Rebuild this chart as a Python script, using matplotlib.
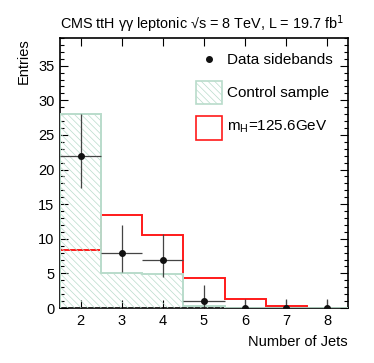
import matplotlib.pyplot as plt
import numpy as np
from matplotlib.patches import Rectangle
from matplotlib.lines import Line2D

plt.rcParams["font.family"] = ["Liberation Sans", "DejaVu Sans"]
plt.rcParams["hatch.linewidth"] = 0.5

# bin edges and centres (number of jets)
edges = np.arange(1.5, 9.0, 1.0)
njets = np.array([2, 3, 4, 5, 6, 7, 8])

# histograms
control = [28.0, 5.1, 4.85, 0.25, 0.0, 0.0, 0.0]
signal = [8.35, 13.45, 10.6, 4.3, 1.3, 0.25, 0.0]

# data sidebands with asymmetric errors
data = [22, 8, 7, 1, 0, 0, 0]
err_lo = [4.6, 2.8, 2.5, 0.83, 0, 0, 0]
err_hi = [6.0, 4.0, 3.7, 2.35, 1.25, 1.25, 1.25]

green = "#b9dccb"
fig = plt.figure(figsize=(3.74, 3.63), dpi=100)
ax = fig.add_axes([60 / 374, 1 - 308 / 363, 288 / 374, 270 / 363])

ax.stairs(signal, edges, color="#ff1a1a", linewidth=1.4, zorder=2)
ax.stairs(control, edges, fill=True, facecolor="none", edgecolor=green,
          hatch="\\\\\\\\\\", linewidth=1.4, zorder=3)
ax.errorbar(njets, data, yerr=[err_lo, err_hi], xerr=0.5, fmt="o",
            color="#111111", ecolor="#444444", markersize=4, elinewidth=0.9,
            capsize=0, zorder=4)

ax.set_xlim(1.5, 8.5)
ax.set_ylim(0, 39)
ax.set_xticks(njets)
ax.set_yticks(np.arange(0, 40, 5))
ax.set_yticks(np.arange(0, 40, 1), minor=True)
ax.tick_params(which="both", direction="in", top=True, right=True,
               labelsize=10.5, width=0.8)
ax.tick_params(which="major", length=6, pad=4)
ax.tick_params(which="minor", length=3)
ax.tick_params(axis="x", which="minor", length=0)
for s in ax.spines.values():
    s.set_linewidth(1.2)

ax.set_xlabel("Number of Jets", fontsize=10.5, loc="right", labelpad=5)
ax.set_ylabel("Entries", fontsize=10.5, loc="top", labelpad=5)

fig.text(60 / 374, 1 - 24 / 363, "CMS ttH γγ leptonic √s = 8 TeV, L = 19.7 fb$^{1}$",
         fontsize=10.4, va="center", ha="left")

# legend drawn by hand, ROOT style
fx = lambda x: x / 374
fy = lambda y: 1 - y / 363
fig.add_artist(Line2D([fx(209)], [fy(59)], marker="o", color="#111111",
                      markersize=4, transform=fig.transFigure))
fig.add_artist(Rectangle((fx(196), fy(104)), 26 / 374, 23 / 363,
                         transform=fig.transFigure, facecolor="white",
                         edgecolor=green, hatch="\\\\\\\\\\", linewidth=1.2))
fig.add_artist(Rectangle((fx(196), fy(140)), 26 / 374, 24 / 363,
                         transform=fig.transFigure, facecolor="white",
                         edgecolor="#ff1a1a", linewidth=1.2))
fig.text(fx(227), fy(60), "Data sidebands", fontsize=11, va="center")
fig.text(fx(227), fy(93), "Control sample", fontsize=11, va="center")
fig.text(fx(227), fy(127), "m$_{\\mathregular{H}}$=125.6GeV", fontsize=11, va="center")

fig.savefig("out.png", dpi=100)
